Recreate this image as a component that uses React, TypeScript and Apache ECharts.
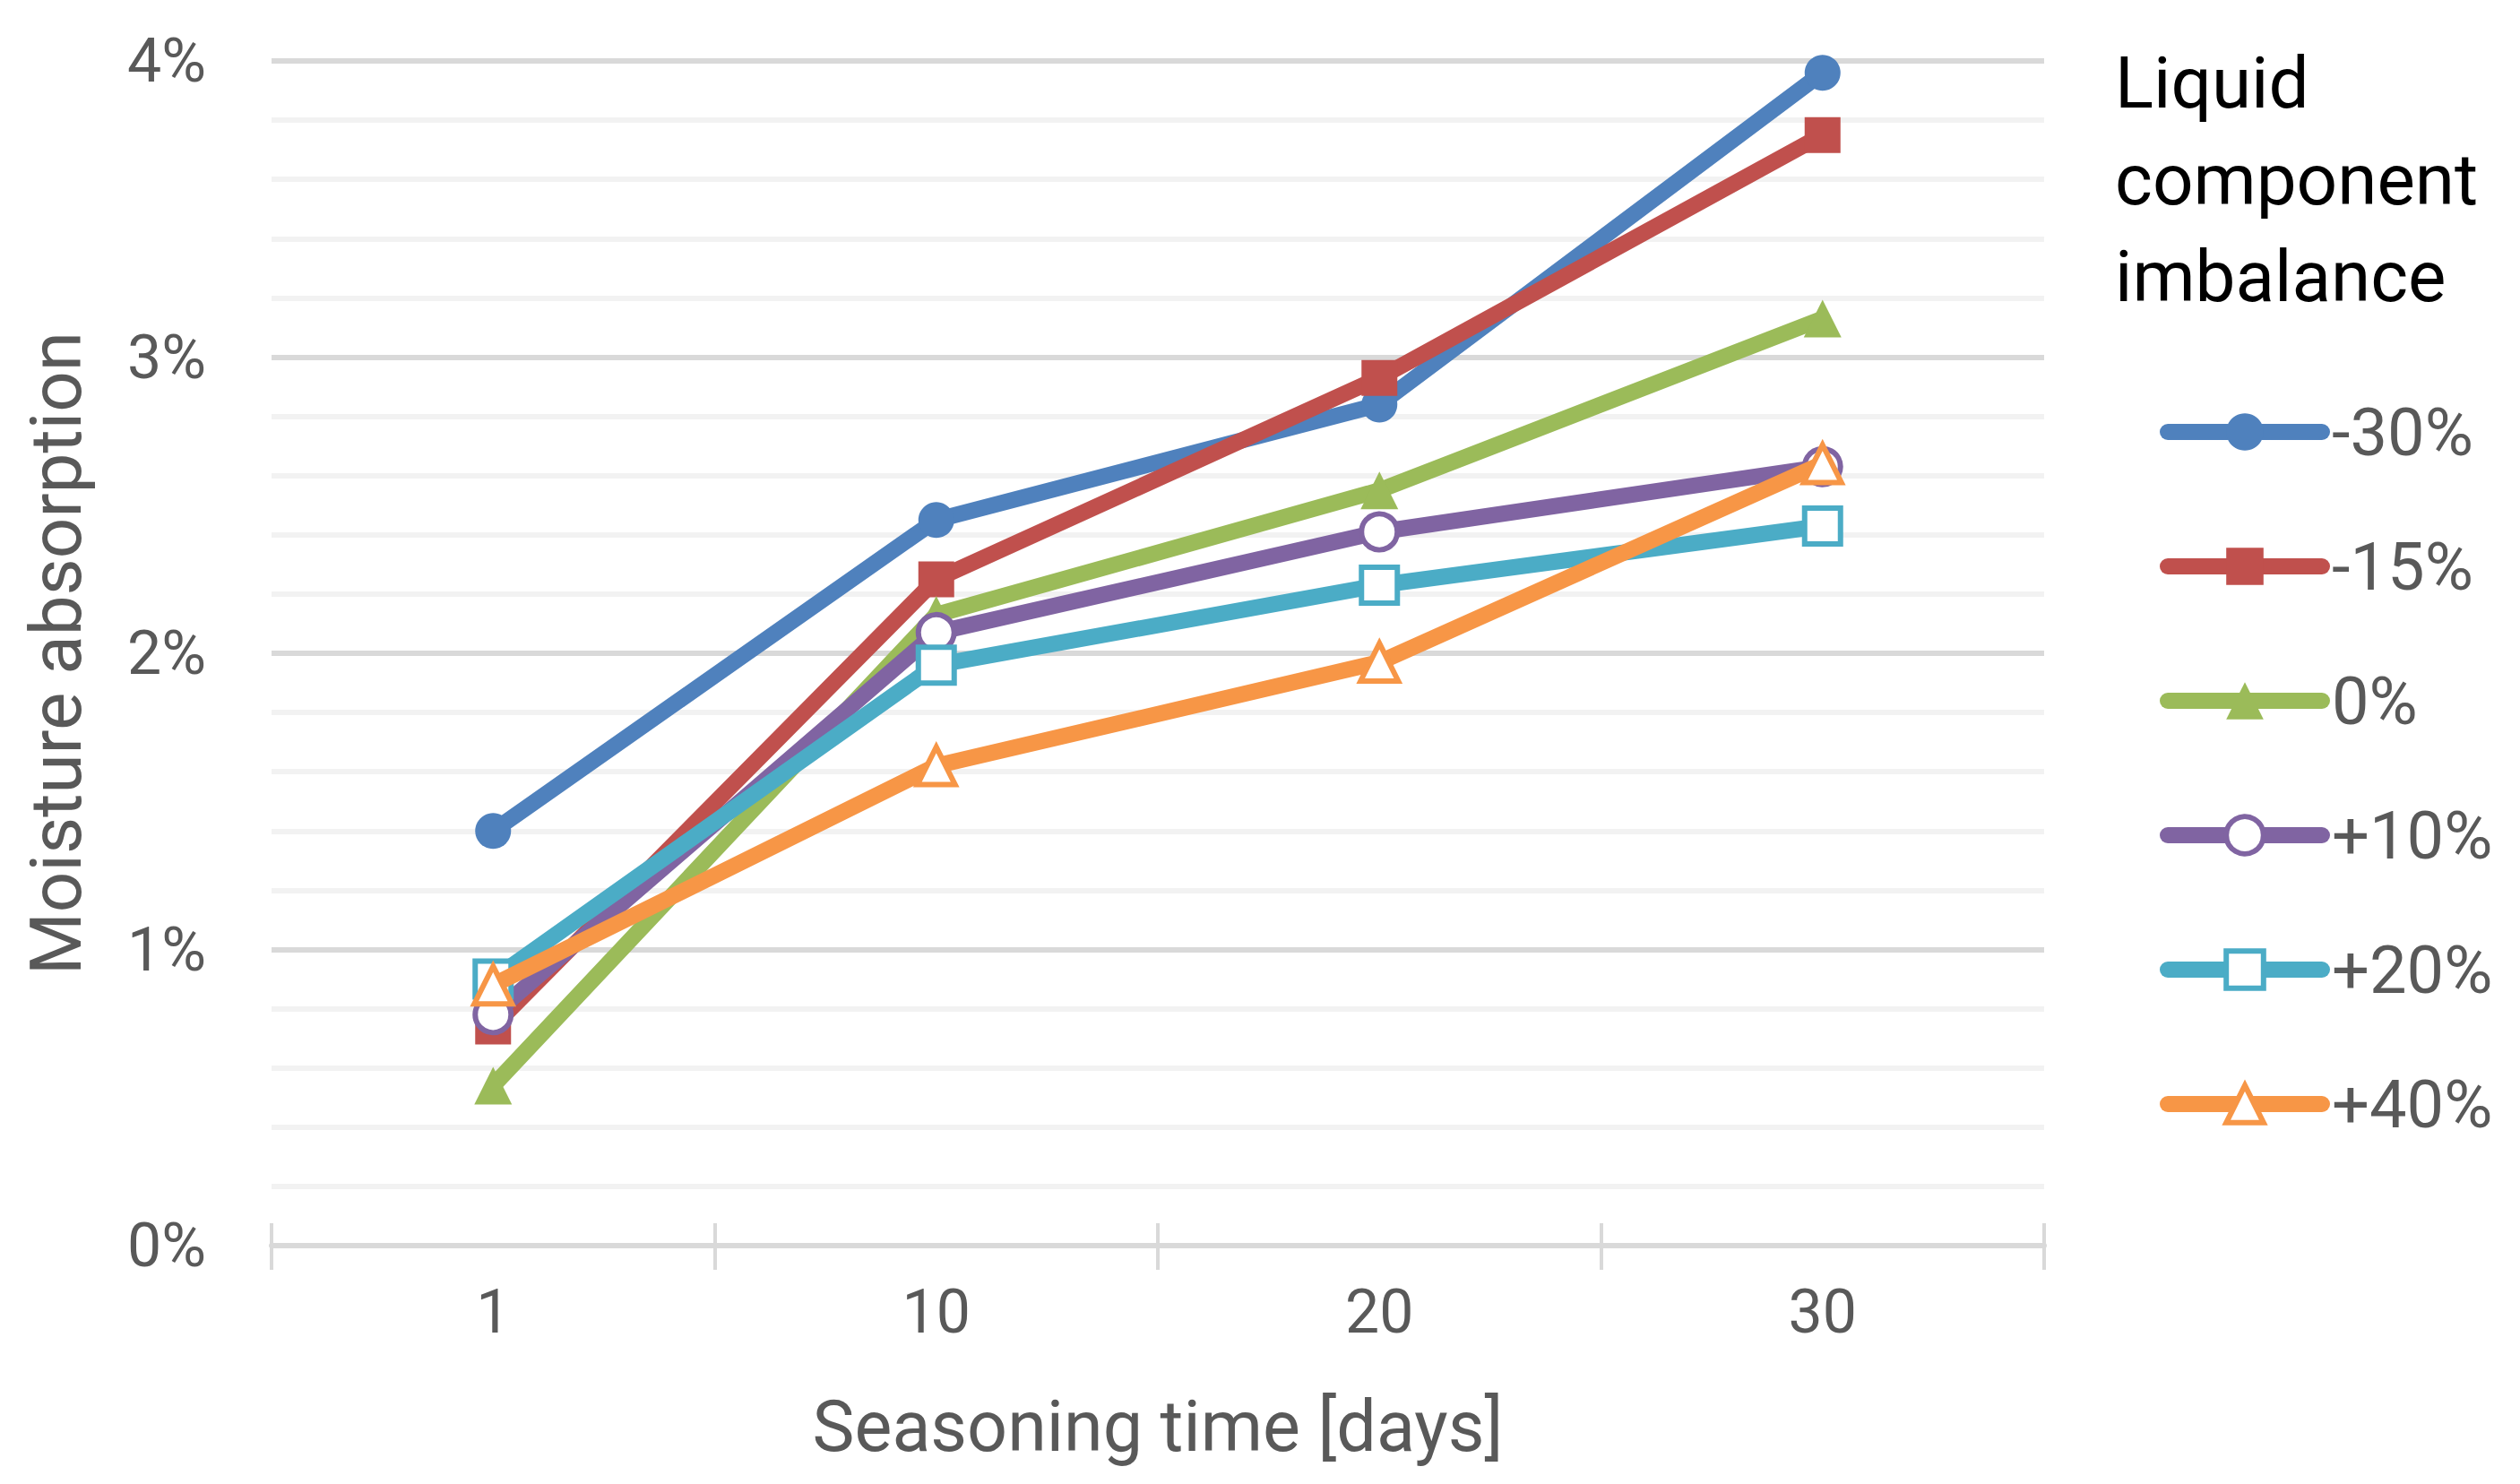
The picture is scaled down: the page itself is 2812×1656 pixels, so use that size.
import React, { useEffect, useRef } from "react";
import * as echarts from "echarts";

const days = ["1", "10", "20", "30"];
const yTicks = [0, 1, 2, 3, 4];
const seriesNames = ["-30%", "-15%", "0%", "+10%", "+20%", "+40%"];
const m30 = [1.4, 2.45, 2.84, 3.96];
const m15 = [0.74, 2.25, 2.93, 3.75];
const zero = [0.54, 2.13, 2.55, 3.13];
const p10 = [0.78, 2.07, 2.41, 2.63];
const p20 = [0.9, 1.96, 2.23, 2.43];
const p40 = [0.88, 1.62, 1.97, 2.64];
const colors = ["#4f81bd", "#c0504d", "#9bbb59", "#8064a2", "#4bacc6", "#f79646"];
const symbols = ["circle", "rect", "triangle", "circle", "rect", "triangle"];
const hollow = [false, false, false, true, true, true];

const FONT = "Roboto";
const GREY = "#595959";

export default function App() {
  const ref = useRef<HTMLDivElement>(null);
  useEffect(() => {
    if (!ref.current) return;
    const chart = echarts.init(ref.current, null, { renderer: "svg" });
    const values = [m30, m15, zero, p10, p20, p40];
    const itemStyleFor = (i: number) =>
      hollow[i]
        ? { color: "#ffffff", borderColor: colors[i], borderWidth: 6 }
        : { color: colors[i], borderColor: colors[i], borderWidth: 0 };
    const series = values.map((d, i) => ({
      name: seriesNames[i],
      type: "line",
      xAxisIndex: 0,
      data: d,
      symbol: symbols[i],
      symbolSize: symbols[i] === "triangle" ? 42 : 40,
      showSymbol: true,
      lineStyle: { color: colors[i], width: 18, cap: "round", join: "round" },
      itemStyle: itemStyleFor(i),
      emphasis: { disabled: true },
      z: 3 + i,
    }));
    chart.setOption({
      animation: false,
      backgroundColor: "#ffffff",
      textStyle: { fontFamily: FONT },
      title: {
        text: "Liquid\ncomponent\nimbalance",
        left: 2355,
        top: 34,
        textStyle: {
          fontFamily: FONT,
          fontSize: 80,
          fontWeight: "normal",
          color: "#000000",
          lineHeight: 108,
        },
      },
      legend: {
        orient: "vertical",
        left: 2410,
        top: 445,
        padding: 0,
        itemWidth: 172,
        itemHeight: 52,
        itemGap: 76,
        data: seriesNames.map((n, i) => ({
          name: n,
          itemStyle: itemStyleFor(i),
          lineStyle: { color: colors[i], width: 18, cap: "round" },
        })),
        lineStyle: { width: 18, cap: "round" },
        textStyle: { fontFamily: FONT, fontSize: 74, color: GREY, padding: [0, 0, 0, 6] },
        selectedMode: false,
      },
      grid: { left: 303, right: 531, top: 68, bottom: 266, containLabel: false },
      xAxis: [
        {
          type: "category",
          data: days,
          boundaryGap: true,
          axisLine: { show: true, lineStyle: { color: "#d9d9d9", width: 6 } },
          axisTick: {
            show: true,
            inside: false,
            length: 27,
            interval: 0,
            lineStyle: { color: "#d9d9d9", width: 4 },
          },
          axisLabel: { fontFamily: FONT, fontSize: 68, color: GREY, margin: 40, interval: 0 },
          name: "Seasoning time [days]",
          nameLocation: "middle",
          nameGap: 162,
          nameTextStyle: { fontFamily: FONT, fontSize: 79, color: GREY },
          splitLine: { show: false },
          z: 2,
        },
        {
          type: "category",
          data: days,
          boundaryGap: true,
          position: "bottom",
          axisLine: { show: false },
          axisTick: {
            show: true,
            inside: true,
            length: 25,
            interval: 0,
            lineStyle: { color: "#d9d9d9", width: 4 },
          },
          axisLabel: { show: false },
          splitLine: { show: false },
        },
      ],
      yAxis: {
        type: "value",
        min: yTicks[0],
        max: yTicks[yTicks.length - 1],
        interval: 1,
        axisLine: { show: false },
        axisTick: { show: false },
        minorTick: { show: false, splitNumber: 5 },
        minorSplitLine: { show: true, lineStyle: { color: "#f2f2f2", width: 6 } },
        splitLine: { show: true, lineStyle: { color: "#d9d9d9", width: 6 } },
        axisLabel: {
          fontFamily: FONT,
          fontSize: 68,
          color: GREY,
          margin: 73,
          formatter: "{value}%",
        },
        name: "Moisture absorption",
        nameLocation: "middle",
        nameGap: 200,
        nameTextStyle: { fontFamily: FONT, fontSize: 80, color: GREY },
      },
      series,
    });
    return () => chart.dispose();
  }, []);
  return (
    <div
      ref={ref}
      style={{ position: "fixed", left: 0, top: 0, width: 2812, height: 1656, background: "#fff" }}
    />
  );
}
